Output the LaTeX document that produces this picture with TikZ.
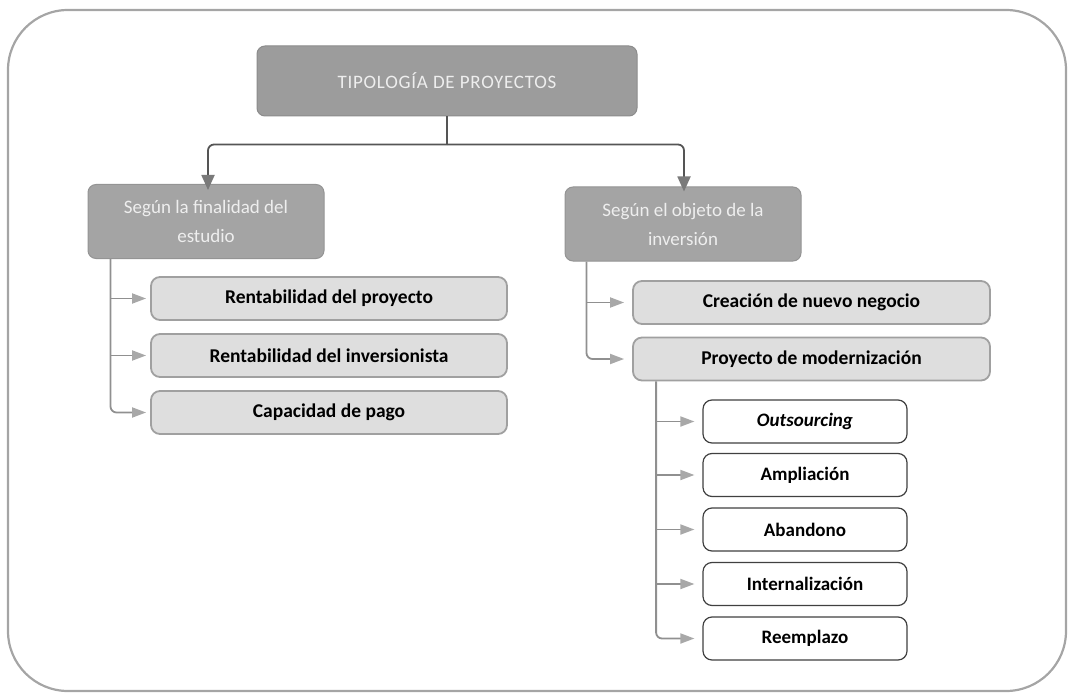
\documentclass[tikz,border=0pt]{standalone}
\usepackage{fontspec}
\setmainfont{Carlito}
\usetikzlibrary{arrows.meta,calc}
\definecolor{darkbox}{HTML}{9C9C9C}
\definecolor{midbox}{HTML}{A4A4A4}
\definecolor{lightbox}{HTML}{DEDEDE}
\definecolor{lightedge}{HTML}{A0A0A0}
\definecolor{paletext}{HTML}{EEEEEE}
\definecolor{mainline}{HTML}{555555}
\definecolor{mainhead}{HTML}{7A7A7A}
\definecolor{branchline}{HTML}{909090}
\definecolor{branchhead}{HTML}{A8A8A8}
\definecolor{frameline}{HTML}{A5A5A5}
\tikzset{
  topbox/.style={draw=darkbox!90!black, line width=1pt, fill=darkbox, rounded corners=8pt,
    minimum width=380pt, minimum height=70pt, text=paletext, font=\fontsize{19}{24}\selectfont\addfontfeatures{LetterSpace=4}},
  catbox/.style={draw=midbox!90!black, line width=1pt, fill=midbox, rounded corners=8pt,
    minimum width=236pt, minimum height=74pt, text=paletext, align=center, font=\fontsize{19}{29}\selectfont},
  leafbox/.style={draw=lightedge, line width=1.8pt, fill=lightbox, rounded corners=9pt,
    minimum height=43pt, font=\fontsize{19.5}{22}\selectfont\bfseries},
  subleaf/.style={draw=black!75, line width=1.2pt, fill=white, rounded corners=9pt,
    minimum width=204pt, minimum height=43pt, font=\fontsize{19}{22}\selectfont\bfseries},
  mainarrow/.style={draw=mainline, line width=1.8pt, rounded corners=6pt,
    -{Triangle[length=15pt,width=13pt,color=mainhead,fill=mainhead]}},
  mainstem/.style={draw=mainline, line width=1.8pt},
  brancharrow/.style={draw=branchline, line width=1.8pt, rounded corners=6pt,
    -{Triangle[length=14pt,width=10pt,color=branchhead,fill=branchhead]}},
  frame/.style={draw=frameline, line width=2.2pt, rounded corners=60pt}
}
\begin{document}
\begin{tikzpicture}[x=1pt,y=-1pt]
\useasboundingbox (0,0) rectangle (1070,695);
\path[frame] (8,10) rectangle (1066,691);

\node[topbox] (top) at (447,81) {TIPOLOGÍA DE PROYECTOS};

\node[catbox] (fin) at (206,221.5) {Según la finalidad del\\estudio};
\node[catbox] (obj) at (683,224) {Según el objeto de la\\inversión};

\coordinate (split) at ($(top.south)+(0,28)$);
\draw[mainstem] (top.south) -- (split);
\draw[mainarrow] (split) -| ([xshift=2pt,yshift=-6pt]fin.north);
\draw[mainarrow] (split) -| ([xshift=1pt,yshift=-5pt]obj.north);

% left leaves
\node[leafbox, minimum width=356pt] (r1) at (329,298.5) {Rentabilidad del proyecto};
\node[leafbox, minimum width=356pt] (r2) at (329,355.5) {Rentabilidad del inversionista};
\node[leafbox, minimum width=356pt] (r3) at (329,412.5) {Capacidad de pago};

\coordinate (lstem) at ([xshift=23pt]fin.south west);
\draw[brancharrow] (lstem) |- ([xshift=-4pt]r3.west);
\draw[brancharrow] (lstem |- r1.west) -- ([xshift=-4pt]r1.west);
\draw[brancharrow] (lstem |- r2.west) -- ([xshift=-4pt]r2.west);

% right leaves
\node[leafbox, minimum width=357pt] (c1) at (811.5,302.5) {Creación de nuevo negocio};
\node[leafbox, minimum width=357pt] (c2) at (811.5,359) {Proyecto de modernización};

\coordinate (rstem) at ([xshift=22pt]obj.south west);
\draw[brancharrow] (rstem) |- ([xshift=-8pt]c2.west);
\draw[brancharrow] (rstem |- c1.west) -- ([xshift=-8pt]c1.west);

% sub leaves
\node[subleaf] (s1) at (805,421.5) {\itshape Outsourcing};
\node[subleaf] (s2) at (805,475) {Ampliación};
\node[subleaf] (s3) at (805,529.5) {Abandono};
\node[subleaf] (s4) at (805,584) {Internalización};
\node[subleaf] (s5) at (805,638.5) {Reemplazo};

\coordinate (sstem) at ([xshift=24pt]c2.south west);
\draw[brancharrow] (sstem) |- ([xshift=-8pt]s5.west);
\foreach \n in {s1,s2,s3,s4}
  \draw[brancharrow] (sstem |- \n.west) -- ([xshift=-8pt]\n.west);
\end{tikzpicture}
\end{document}
